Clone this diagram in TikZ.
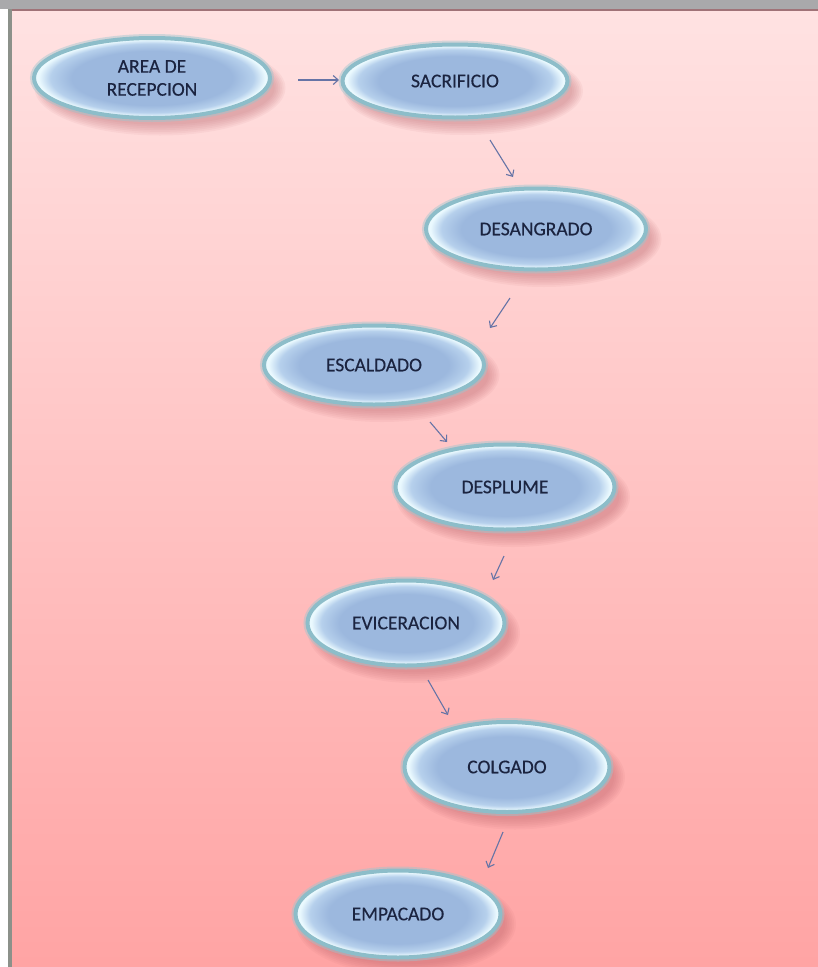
\documentclass[tikz,border=0pt]{standalone}
\usepackage{fontspec}
\setmainfont{Carlito}
\newfontfamily\steplabelfont{Carlito}[FakeBold=0.35]
\usetikzlibrary{arrows.meta,backgrounds,shapes.geometric}

\definecolor{pinktop}{HTML}{FFE2E2}
\definecolor{pinkbot}{HTML}{FFA3A3}
\definecolor{framegray}{HTML}{A9A9AB}
\definecolor{frameline}{HTML}{8C918A}
\definecolor{rimred}{HTML}{A07378}
\definecolor{bodyc}{HTML}{9CB8DE}
\definecolor{bodymid}{HTML}{B6D0EC}
\definecolor{rimc}{HTML}{EAF9FE}
\definecolor{ringc}{HTML}{8DBDC9}
\definecolor{glowc}{HTML}{9CC6CF}
\definecolor{shadowc}{HTML}{B85C64}
\definecolor{textc}{HTML}{1B2440}
\definecolor{arrowc}{HTML}{6674A6}

% glossy fill of the process ovals (boundary of the path = 25bp)
\pgfdeclareradialshading{bubble}{\pgfpoint{0bp}{0bp}}{%
  color(0bp)=(bodyc); color(17bp)=(bodyc); color(21.5bp)=(bodymid);
  color(24bp)=(rimc); color(25bp)=(rimc); color(50bp)=(rimc)}

\tikzset{
  stepoval/.style 2 args={ellipse, minimum width=#1, minimum height=#2,
    inner sep=0pt, outer sep=0pt,
    preaction={draw=glowc, line width=8pt, draw opacity=0.45},
    shade, shading=bubble,
    draw=ringc, line width=4pt, text=textc, align=center,
    font=\steplabelfont\fontsize{19.5}{23}\selectfont},
  flow/.style={draw=arrowc, line width=1.1pt,
    -{Straight Barb[length=5pt,width=9pt]}}
}

\begin{document}
\begin{tikzpicture}[x=1pt,y=-1pt]
\useasboundingbox (0,0) rectangle (817,967);

% process steps
\node[stepoval={236pt}{80pt}] (recepcion)    at (152,78)  {AREA DE\\RECEPCION};
\node[stepoval={225pt}{73pt}] (sacrificio)   at (455,81)  {SACRIFICIO};
\node[stepoval={220pt}{81pt}] (desangrado)   at (536,229) {DESANGRADO};
\node[stepoval={220pt}{79pt}] (escaldado)    at (374,365) {ESCALDADO};
\node[stepoval={219pt}{85pt}] (desplume)     at (505,487) {DESPLUME};
\node[stepoval={197pt}{85pt}] (evisceracion) at (406,623) {EVICERACION};
\node[stepoval={205pt}{90pt}] (colgado)      at (507,767) {COLGADO};
\node[stepoval={205pt}{87pt}] (empacado)     at (398,914) {EMPACADO};

% flow arrows between consecutive steps
\draw[flow] ([shift={(146,2)}]recepcion.center)   -- ([shift={(-116,-1)}]sacrificio.center);
\draw[flow] ([shift={(35,59)}]sacrificio.center)  -- ([shift={(-23,-52)}]desangrado.center);
\draw[flow] ([shift={(-26,69)}]desangrado.center) -- ([shift={(116,-37)}]escaldado.center);
\draw[flow] ([shift={(56,57)}]escaldado.center)   -- ([shift={(-58,-45)}]desplume.center);
\draw[flow] ([shift={(-1,69)}]desplume.center)    -- ([shift={(87,-43)}]evisceracion.center);
\draw[flow] ([shift={(22,57)}]evisceracion.center) -- ([shift={(-59,-52)}]colgado.center);
\draw[flow] ([shift={(-4,65)}]colgado.center)     -- ([shift={(90,-46)}]empacado.center);

\begin{scope}[on background layer]
  % page and frame
  \shade[top color=pinktop, bottom color=pinkbot] (12,11) rectangle (830,980);
  \fill[framegray] (0,0) rectangle (830,9);
  \fill[rimred] (12,9) rectangle (830,11);
  \fill[white] (0,9) rectangle (8,980);
  \fill[frameline] (8,9) rectangle (12,980);
  % soft drop shadows under the ovals
  \foreach \n/\w/\h in {recepcion/241/85, sacrificio/230/78, desangrado/225/86,
      escaldado/225/84, desplume/224/90, evisceracion/202/90,
      colgado/210/95, empacado/210/92} {
    \foreach \k in {0,...,6}
      \fill[shadowc, opacity=0.065] ([shift={(8,10)}]\n.center)
        ellipse [x radius={\w/2+5-1.8*\k}, y radius={\h/2+5-1.8*\k}];
  }
\end{scope}
\end{tikzpicture}
\end{document}
